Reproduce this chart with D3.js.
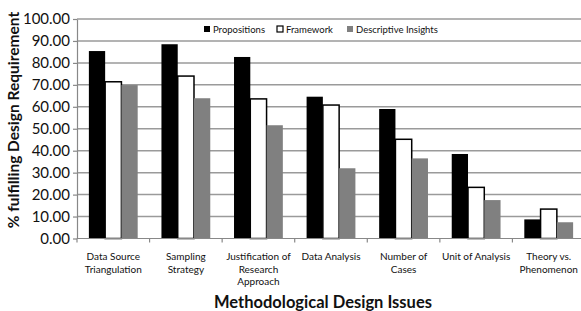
<!DOCTYPE html>
<html>
<head>
<meta charset="utf-8">
<script src="https://cdn.jsdelivr.net/npm/d3@7"></script>
<style>
  body { margin: 0; background: #fff; }
  text { font-family: Lato, "Open Sans", sans-serif; fill: #111; }
</style>
</head>
<body>
<script>
const w = 581;
const h = 311;

// data
const categories = [
  ["Data Source", "Triangulation"],
  ["Sampling", "Strategy"],
  ["Justification of", "Research", "Approach"],
  ["Data Analysis"],
  ["Number of", "Cases"],
  ["Unit of Analysis"],
  ["Theory vs.", "Phenomenon"]
];
const seriesNames = ["Propositions", "Framework", "Descriptive Insights"];
const propositions = [85.4, 88.5, 82.7, 64.6, 59.0, 38.5, 8.7];
const framework = [71.4, 74.0, 63.6, 60.8, 45.2, 23.3, 13.4];
const descriptive = [69.9, 63.9, 51.6, 32.0, 36.5, 17.5, 7.4];
const yTicks = [0, 10, 20, 30, 40, 50, 60, 70, 80, 90, 100];

const series = [propositions, framework, descriptive];
const fills = ["#000", "#fff", "#808080"];

const margin = { left: 77, right: -4, top: 19, bottom: 72 };

const svg = d3.select("body").append("svg")
  .attr("width", w)
  .attr("height", h);

const x = d3.scaleBand()
  .domain(d3.range(categories.length))
  .range([margin.left, w - margin.right]);

const x1 = d3.scaleBand()
  .domain(d3.range(series.length))
  .range([0, x.bandwidth()])
  .paddingOuter(0.73)
  .paddingInner(0);

const y = d3.scaleLinear()
  .domain([0, 100])
  .range([h - margin.bottom - 0.5, margin.top]);

// gridlines
svg.append("g")
  .selectAll("line")
  .data(yTicks.slice(1))
  .enter()
  .append("line")
  .attr("x1", margin.left)
  .attr("x2", w)
  .attr("y1", d => y(d))
  .attr("y2", d => y(d))
  .attr("stroke", "#9a9a9a")
  .attr("stroke-width", 1.5);

// bars
series.forEach(function(vals, s) {
  svg.append("g")
    .selectAll("rect")
    .data(vals)
    .enter()
    .append("rect")
    .attr("x", (d, i) => x(i) + x1(s))
    .attr("width", x1.bandwidth())
    .attr("y", d => y(d))
    .attr("height", d => y(0) - y(d))
    .attr("fill", fills[s])
    .attr("stroke", s == 1 ? "#000" : "none")
    .attr("stroke-width", 1.5);
});

// y axis
svg.append("g")
  .attr("transform", "translate(" + margin.left + ",0)")
  .call(d3.axisLeft(y)
    .tickValues(yTicks)
    .tickSize(4)
    .tickSizeOuter(0)
    .tickPadding(3)
    .tickFormat(d3.format(".2f")))
  .call(g => g.selectAll("line, path").attr("stroke", "#888").attr("stroke-width", 1.2))
  .call(g => g.selectAll("text").style("font-size", "15px").attr("fill", "#222"));

// x axis
const xAxis = svg.append("g")
  .attr("transform", "translate(0," + y(0) + ")");

xAxis.append("line")
  .attr("x1", margin.left)
  .attr("x2", w)
  .attr("stroke", "#888")
  .attr("stroke-width", 1.2);

xAxis.selectAll(".tick")
  .data(d3.range(categories.length + 1))
  .enter()
  .append("line")
  .attr("x1", i => margin.left + i * x.step())
  .attr("x2", i => margin.left + i * x.step())
  .attr("y2", 4)
  .attr("stroke", "#888")
  .attr("stroke-width", 1.2);

xAxis.selectAll(".cat")
  .data(categories)
  .enter()
  .append("text")
  .attr("text-anchor", "middle")
  .style("font-size", "10px")
  .attr("transform", (d, i) => "translate(" + (x(i) + x.bandwidth() / 2) + ",0)")
  .selectAll("tspan")
  .data(d => d)
  .enter()
  .append("tspan")
  .attr("x", 0)
  .attr("y", (d, j) => 21.5 + j * 12.5)
  .text(d => d);

// axis titles
svg.append("text")
  .attr("transform", "translate(19,120) rotate(-90)")
  .attr("text-anchor", "middle")
  .style("font-size", "15.5px")
  .style("font-weight", "bold")
  .text("% fulfilling Design Requirement");

svg.append("text")
  .attr("x", 323)
  .attr("y", 308)
  .attr("text-anchor", "middle")
  .style("font-size", "16.5px")
  .style("font-weight", "bold")
  .text("Methodological Design Issues");

// legend
const legendX = [204, 277, 347];
const legend = svg.append("g");

seriesNames.forEach(function(name, s) {
  legend.append("rect")
    .attr("x", legendX[s])
    .attr("y", 26)
    .attr("width", 6)
    .attr("height", 6)
    .attr("fill", fills[s])
    .attr("stroke", s == 1 ? "#000" : "none")
    .attr("stroke-width", 1.2);
  legend.append("text")
    .attr("x", legendX[s] + 9)
    .attr("y", 32.5)
    .style("font-size", "9.5px")
    .text(name);
});
</script>
</body>
</html>
